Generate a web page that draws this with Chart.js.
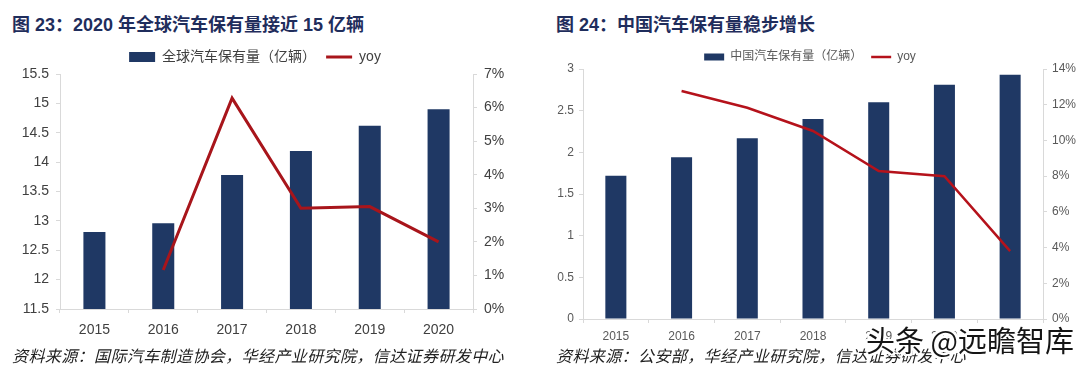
<!DOCTYPE html>
<html>
<head>
<meta charset="utf-8">
<script src="https://cdn.jsdelivr.net/npm/chart.js@4.4.1/dist/chart.umd.min.js"></script>
<style>
    body { margin: 0; width: 1080px; height: 367px; background: #fff; position: relative; overflow: hidden; }
    .title { position: absolute; top: 10px; font: 700 18px "Liberation Sans", "Noto Sans CJK SC", sans-serif; color: #1f2d5c; white-space: nowrap; }
    .src { position: absolute; top: 343px; line-height: 22px; font: italic 16px "Noto Sans CJK SC", sans-serif; letter-spacing: 0.4px; color: #222; white-space: nowrap; }
    .box { position: absolute; top: 40px; width: 540px; height: 305px; }
    .wm { position: absolute; left: 866px; top: 318px; font: 29px "Noto Sans CJK SC", sans-serif; color: #151515; white-space: nowrap;
          text-shadow: -2px 0 #fff, 2px 0 #fff, 0 -2px #fff, 0 2px #fff, -2px -2px #fff, 2px 2px #fff, -2px 2px #fff, 2px -2px #fff; }
</style>
</head>
<body>
<div class="title" style="left:12px">图 23：2020 年全球汽车保有量接近 15 亿辆</div>
<div class="title" style="left:556px">图 24：中国汽车保有量稳步增长</div>
<div class="box" style="left:0"><canvas id="worldChart" width="540" height="305"></canvas></div>
<div class="box" style="left:540px"><canvas id="chinaChart" width="540" height="305"></canvas></div>
<div class="src" style="left:12px">资料来源：国际汽车制造协会，华经产业研究院，信达证券研发中心</div>
<div class="src" style="left:556px">资料来源：公安部，华经产业研究院，信达证券研发中心</div>
<div class="wm">头条 @远瞻智库</div>

<script>
// Figure 23 - world
const worldYears = ['2015', '2016', '2017', '2018', '2019', '2020'];
const worldStock = [12.81, 12.96, 13.78, 14.19, 14.62, 14.90];
const worldYoy = [null, 1.16, 6.28, 3.0, 3.05, 2.0];
const worldStockAxis = [11.5, 15.5, 0.5];
const worldYoyAxis = [0, 7, 1];

// Figure 24 - China
const chinaYears = ['2015', '2016', '2017', '2018', '2019', '2020', '2021'];
const chinaStock = [1.72, 1.94, 2.17, 2.40, 2.60, 2.81, 2.93];
const chinaYoy = [null, 12.77, 11.83, 10.53, 8.29, 8.0, 3.8];
const chinaStockAxis = [0, 3, 0.5];
const chinaYoyAxis = [0, 14, 2];

const navy = '#1f3864';
const axisGrey = '#d9d9d9';

function makeChart(id, cfg) {
    const ctx = document.getElementById(id).getContext('2d');
    const yAxis = (range, pos, width, pct) => ({
        position: pos,
        min: range[0], max: range[1],
        ticks: {
            stepSize: range[2], color: cfg.textColor, padding: cfg.tickPad,
            font: { family: 'Liberation Sans', size: cfg.fontSize },
            callback: v => pct ? v + '%' : v
        },
        grid: { drawOnChartArea: false, color: axisGrey, tickLength: 4 },
        border: { color: axisGrey },
        afterFit: s => { s.width = width; }
    });
    return new Chart(ctx, {
        type: 'bar',
        data: {
            labels: cfg.labels,
            datasets: [{
                type: 'line',
                label: 'yoy',
                data: cfg.yoy,
                yAxisID: 'y1',
                borderColor: cfg.lineColor,
                borderWidth: cfg.lineWidth,
                pointRadius: 0,
                pointStyle: 'line',
                tension: 0,
                order: 0
            }, {
                label: cfg.barLabel,
                data: cfg.stock,
                yAxisID: 'y',
                backgroundColor: navy,
                borderWidth: 0,
                pointStyle: 'rect',
                barPercentage: 0.32,
                categoryPercentage: 1,
                order: 1
            }]
        },
        options: {
            responsive: false,
            animation: false,
            layout: { padding: cfg.padding },
            plugins: {
                tooltip: { enabled: false },
                legend: {
                    reverse: true,
                    maxHeight: cfg.legendHeight,
                    labels: {
                        usePointStyle: true,
                        pointStyleWidth: cfg.boxWidth,
                        boxHeight: cfg.boxHeight,
                        padding: cfg.legendPad,
                        color: cfg.textColor,
                        font: { family: "'Liberation Sans', 'Noto Sans CJK SC'", size: cfg.fontSize }
                    }
                }
            },
            scales: {
                x: {
                    ticks: { color: cfg.textColor, padding: cfg.xPad, font: { family: 'Liberation Sans', size: cfg.fontSize } },
                    grid: { drawOnChartArea: false, color: axisGrey, tickLength: 4 },
                    border: { color: axisGrey },
                    afterFit: s => { s.height = cfg.xHeight; }
                },
                y: yAxis(cfg.stockAxis, 'left', cfg.leftWidth, false),
                y1: yAxis(cfg.yoyAxis, 'right', cfg.rightWidth, true)
            }
        }
    });
}

makeChart('worldChart', {
    labels: worldYears, stock: worldStock, yoy: worldYoy,
    stockAxis: worldStockAxis, yoyAxis: worldYoyAxis,
    barLabel: '全球汽车保有量（亿辆）',
    lineColor: '#a8151b', lineWidth: 3,
    textColor: '#404040', fontSize: 14, tickPad: 7, xPad: 9,
    padding: { top: 0, right: 30, left: 0, bottom: 0 },
    legendHeight: 34, legendPad: 10, boxWidth: 26, boxHeight: 10,
    xHeight: 36, leftWidth: 60, rightWidth: 37
});

makeChart('chinaChart', {
    labels: chinaYears, stock: chinaStock, yoy: chinaYoy,
    stockAxis: chinaStockAxis, yoyAxis: chinaYoyAxis,
    barLabel: '中国汽车保有量（亿辆）',
    lineColor: '#b5121b', lineWidth: 2.5,
    textColor: '#595959', fontSize: 12, tickPad: 5, xPad: 6,
    padding: { top: 2, right: 0, left: 0, bottom: 0 },
    legendHeight: 27, legendPad: 9, boxWidth: 20, boxHeight: 7,
    xHeight: 26, leftWidth: 43, rightWidth: 37
});
</script>
</body>
</html>
